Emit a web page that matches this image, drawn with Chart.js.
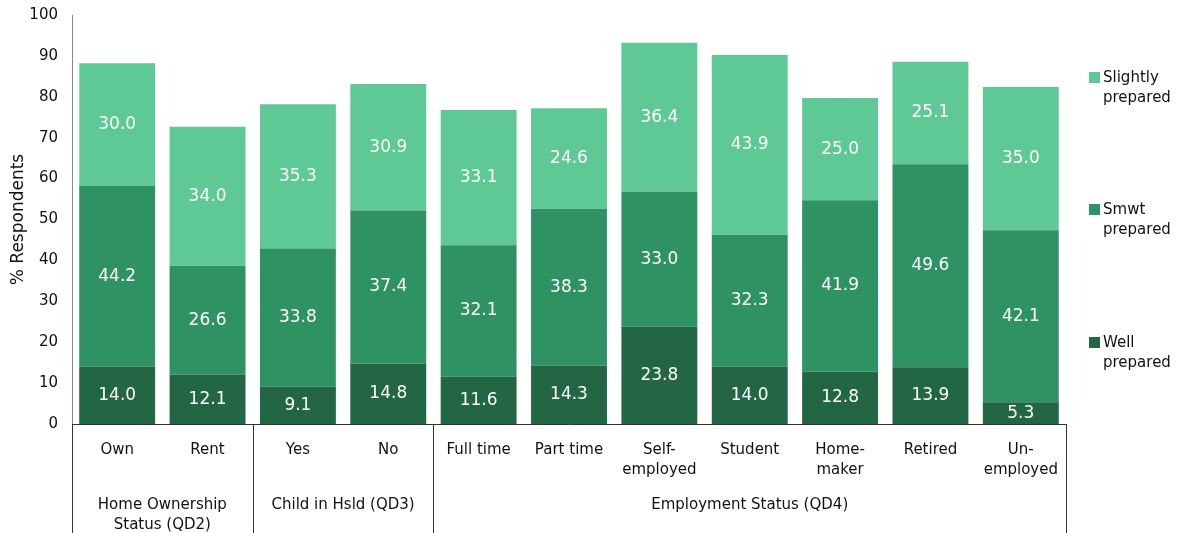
<!DOCTYPE html>
<html>
<head>
<meta charset="utf-8">
<script src="https://cdn.jsdelivr.net/npm/chart.js@4"></script>
<style>
  html, body { margin: 0; padding: 0; background: #fff; }
  #wrap { width: 1183px; height: 533px; }
</style>
</head>
<body>
<div id="wrap"><canvas id="c" width="1183" height="533"></canvas></div>
<script>
// Categories (multi-line where the label wraps)
const categories = [
  'Own', 'Rent', 'Yes', 'No', 'Full time', 'Part time',
  ['Self-', 'employed'], 'Student', ['Home-', 'maker'], 'Retired', ['Un-', 'employed']
];

// Category groups shown beneath the axis
const groupLabels = [['Home Ownership', 'Status (QD2)'], ['Child in Hsld (QD3)'], ['Employment Status (QD4)']];
const groupSizes = [2, 2, 7];

// Percent of respondents by preparedness level
const wellPrepared     = [14.0, 12.1, 9.1, 14.8, 11.6, 14.3, 23.8, 14.0, 12.8, 13.9, 5.3];
const smwtPrepared     = [44.2, 26.6, 33.8, 37.4, 32.1, 38.3, 33.0, 32.3, 41.9, 49.6, 42.1];
const slightlyPrepared = [30.0, 34.0, 35.3, 30.9, 33.1, 24.6, 36.4, 43.9, 25.0, 25.1, 35.0];

const seriesNames = ['Well prepared', 'Smwt prepared', 'Slightly prepared'];
const seriesColors = ['#226644', '#2f9263', '#5ec994'];

const yTicks = [0, 10, 20, 30, 40, 50, 60, 70, 80, 90, 100];

const FONT = "'DejaVu Sans', sans-serif";

// Writes each segment's value in its middle
const valueLabels = {
  id: 'valueLabels',
  afterDatasetsDraw(chart) {
    const ctx = chart.ctx;
    ctx.save();
    ctx.fillStyle = '#ffffff';
    ctx.font = '17px ' + FONT;
    ctx.textAlign = 'center';
    ctx.textBaseline = 'middle';
    chart.data.datasets.forEach((ds, di) => {
      chart.getDatasetMeta(di).data.forEach((bar, i) => {
        const mid = (bar.y + bar.base) / 2;
        ctx.fillText(ds.data[i].toFixed(1), bar.x, mid);
      });
    });
    ctx.restore();
  }
};

// Group dividers and group captions under the category labels
const groupAxis = {
  id: 'groupAxis',
  afterDraw(chart) {
    const ctx = chart.ctx;
    const area = chart.chartArea;
    const n = categories.length;
    const w = (area.right - area.left) / n;
    const bottom = chart.height;
    ctx.save();
    ctx.strokeStyle = '#333333';
    ctx.lineWidth = 1;
    let idx = 0;
    const edges = [0];
    groupSizes.forEach(s => { idx += s; edges.push(idx); });
    edges.forEach(e => {
      const x = Math.round(area.left + e * w) + 0.5;
      ctx.beginPath();
      ctx.moveTo(x, area.bottom);
      ctx.lineTo(x, bottom);
      ctx.stroke();
    });
    ctx.fillStyle = '#111111';
    ctx.font = '15px ' + FONT;
    ctx.textAlign = 'center';
    ctx.textBaseline = 'middle';
    groupLabels.forEach((lines, g) => {
      const cx = area.left + ((edges[g] + edges[g + 1]) / 2) * w;
      lines.forEach((t, li) => ctx.fillText(t, cx, area.bottom + 81 + li * 20));
    });
    ctx.restore();
  }
};

// Legend on the right, top to bottom from the top series down
const sideLegend = {
  id: 'sideLegend',
  afterDraw(chart) {
    const ctx = chart.ctx;
    const x = chart.chartArea.right + 23;
    const rows = [78, 210, 343];
    ctx.save();
    ctx.font = '15px ' + FONT;
    ctx.textAlign = 'left';
    ctx.textBaseline = 'middle';
    [2, 1, 0].forEach((di, r) => {
      const y = rows[r];
      ctx.fillStyle = seriesColors[di];
      ctx.fillRect(x, y - 6, 11, 11);
      ctx.fillStyle = '#111111';
      const words = seriesNames[di].split(' ');
      ctx.fillText(words[0], x + 14, y);
      ctx.fillText(words[1], x + 14, y + 20);
    });
    ctx.restore();
  }
};

const datasets = [wellPrepared, smwtPrepared, slightlyPrepared].map((d, i) => ({
  label: seriesNames[i],
  data: d,
  backgroundColor: seriesColors[i],
  borderWidth: 0,
  inflateAmount: 0,
  barPercentage: 0.84,
  categoryPercentage: 1.0
}));

new Chart(document.getElementById('c'), {
  type: 'bar',
  data: { labels: categories, datasets },
  plugins: [valueLabels, groupAxis, sideLegend],
  options: {
    responsive: false,
    animation: false,
    devicePixelRatio: 1,
    layout: { padding: { top: 13, right: 117, bottom: 0, left: 0 } },
    plugins: { legend: { display: false }, tooltip: { enabled: false } },
    scales: {
      x: {
        stacked: true,
        grid: { display: false },
        border: { display: true, color: '#333333', width: 1 },
        ticks: {
          color: '#111111',
          font: { family: FONT, size: 15, lineHeight: 1.33 },
          padding: 8,
          maxRotation: 0,
          autoSkip: false
        },
        afterFit(scale) { scale.height = 109; }
      },
      y: {
        stacked: true,
        min: 0,
        max: 100,
        afterBuildTicks(scale) { scale.ticks = yTicks.map(v => ({ value: v })); },
        grid: { display: false },
        border: { display: true, color: '#888888', width: 1 },
        ticks: {
          color: '#111111',
          font: { family: FONT, size: 15 },
          padding: 6
        },
        title: {
          display: true,
          text: '% Respondents',
          color: '#111111',
          font: { family: FONT, size: 17 },
          padding: { top: 8, bottom: 0 }
        },
        afterFit(scale) { scale.width = 72; }
      }
    }
  }
});
</script>
</body>
</html>
